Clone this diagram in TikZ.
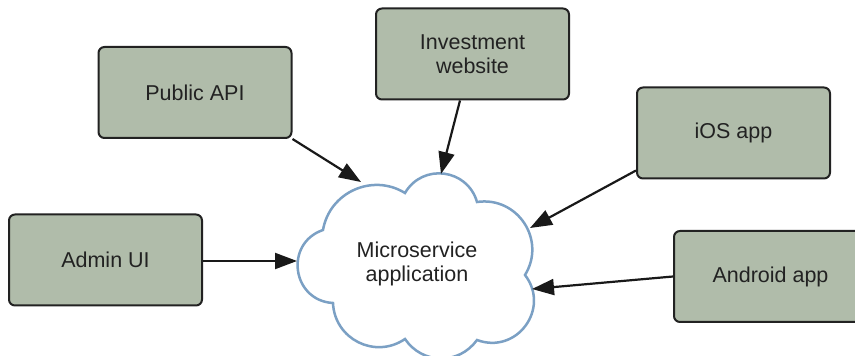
\documentclass[tikz,border=0pt]{standalone}
\usepackage{fontspec}
\setmainfont{Liberation Sans}
\usetikzlibrary{arrows.meta,calc}
\definecolor{boxfill}{HTML}{B0BCAA}
\definecolor{boxline}{HTML}{222222}
\definecolor{cloudline}{HTML}{7BA0C4}
\definecolor{txt}{HTML}{222222}
\begin{document}
\begin{tikzpicture}[x=1pt,y=1pt,
  client/.style={draw=boxline, fill=boxfill, line width=2pt, rounded corners=6pt,
    minimum width=193pt, minimum height=91pt, inner sep=0pt, align=center,
    text=txt, font=\fontsize{21.5pt}{24pt}\selectfont},
  conn/.style={draw=black!90, line width=2.2pt, -{Triangle[length=22pt,width=16pt]}}]
\clip (0,0) rectangle (855,356);
% client boxes
\node[client] (pub) at (195,263.5) {Public API};
\node[client] (inv) at (472.5,302) {Investment\\website};
\node[client] (ios) at (733.5,223) {iOS app};
\node[client] (adm) at (105.5,96) {Admin UI};
\node[client] (and) at (770.5,79.5) {Android app};
% cloud
\coordinate (cA) at (323,126);
\coordinate (cB) at (405,163);
\coordinate (cC) at (477,154);
\coordinate (cD) at (525,81);
\coordinate (cE) at (477,16);
\coordinate (cF) at (405,17);
\coordinate (cG) at (333,53);
\draw[cloudline, line width=2.5pt, fill=white, line join=miter]
  (cA) to[bend left=56, looseness=1.09] (cB)
       to[bend left=67, looseness=1.23] (cC)
       to[bend left=65, looseness=1.2] (cD)
       to[bend left=74, looseness=1.34] (cE)
       to[bend left=55, looseness=1.1] (cF)
       to[bend left=61, looseness=1.15] (cG)
       to[bend left=79, looseness=1.43] (cA) -- cycle;
\node[text=txt, align=center, font=\fontsize{21.5pt}{24pt}\selectfont] (app) at (417,92) {Microservice\\application};
% arrow tips on the cloud
\coordinate (t1) at (361,174);
\coordinate (t2) at (441,182);
\coordinate (t3) at (530,128);
\coordinate (t4) at (297,95);
\coordinate (t5) at (532,67);
% connectors
\draw[conn] (pub.south east) -- (t1);
\draw[conn] ($(inv.south)+(-12.5,0)$) -- (t2);
\draw[conn] ($(ios.south west)+(0,9)$) -- (t3);
\draw[conn] ($(adm.east)+(0,-1)$) -- (t4);
\draw[conn] (and.west) -- (t5);
\end{tikzpicture}
\end{document}
